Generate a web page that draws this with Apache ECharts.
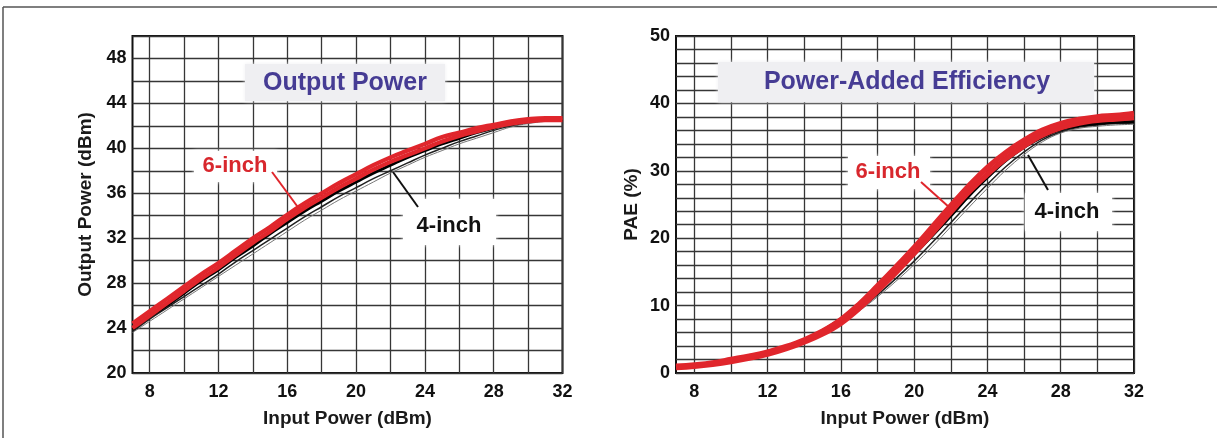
<!DOCTYPE html>
<html>
<head>
<meta charset="utf-8">
<script src="https://cdn.jsdelivr.net/npm/echarts@6/dist/echarts.min.js"></script>
<style>
  html, body { margin: 0; padding: 0; background: #ffffff; }
  #chart { width: 1217px; height: 438px; }
</style>
</head>
<body>
<div id="chart"></div>
<script>
// Input drive level shared by both panels (dBm)
const inputPower = [7, 8, 9, 10, 11, 12, 13, 14, 15, 16, 17, 18, 19, 20, 21, 22, 23, 24, 25, 26, 27, 28, 29, 30, 31, 32];

// Output power (dBm): 6-inch wafer bundle (upper / lower edge)
const pout6Upper = [24.4, 25.5, 26.6, 27.7, 28.8, 29.8, 30.9, 32.0, 33.0, 34.1, 35.1, 36.0, 36.9, 37.7, 38.5, 39.2, 39.8, 40.4, 41.0, 41.4, 41.8, 42.1, 42.4, 42.6, 42.7, 42.7];
const pout6Lower = [24.0, 25.1, 26.2, 27.3, 28.4, 29.4, 30.5, 31.6, 32.6, 33.7, 34.7, 35.6, 36.5, 37.3, 38.1, 38.8, 39.4, 40.0, 40.6, 41.1, 41.5, 41.9, 42.2, 42.4, 42.5, 42.5];
// Output power (dBm): 4-inch wafer bundle
const pout4Main  = [23.9, 25.0, 26.0, 27.1, 28.2, 29.2, 30.3, 31.3, 32.4, 33.4, 34.4, 35.3, 36.2, 37.0, 37.8, 38.5, 39.2, 39.8, 40.4, 40.9, 41.4, 41.8, 42.2, 42.4, 42.5, 42.5];
const pout4Low   = [23.7, 24.8, 25.8, 26.8, 27.8, 28.8, 29.9, 30.9, 31.9, 32.9, 33.9, 34.8, 35.7, 36.5, 37.3, 38.0, 38.7, 39.4, 40.0, 40.6, 41.1, 41.6, 42.0, 42.3, 42.5, 42.5];
const pout4Grey  = [23.6, 24.6, 25.6, 26.6, 27.6, 28.6, 29.6, 30.6, 31.6, 32.6, 33.6, 34.5, 35.4, 36.2, 37.0, 37.8, 38.5, 39.2, 39.8, 40.4, 40.9, 41.4, 41.9, 42.2, 42.4, 42.5];

// Power-added efficiency (%): 6-inch wafer bundle
const pae6Upper = [1.0, 1.2, 1.5, 2.0, 2.5, 3.1, 3.9, 4.9, 6.2, 7.9, 10.2, 12.9, 15.7, 18.6, 21.7, 24.8, 27.8, 30.5, 32.7, 34.5, 36.0, 37.0, 37.6, 38.0, 38.2, 38.5];
const pae6Lower = [0.8, 1.0, 1.3, 1.7, 2.2, 2.8, 3.6, 4.6, 5.8, 7.4, 9.6, 12.2, 14.9, 17.8, 20.8, 23.9, 26.9, 29.5, 31.8, 33.7, 35.3, 36.4, 37.1, 37.5, 37.7, 37.9];
// Power-added efficiency (%): 4-inch wafer bundle
const pae4Main  = [0.9, 1.1, 1.4, 1.9, 2.4, 3.0, 3.9, 4.9, 6.3, 8.0, 10.0, 12.4, 15.0, 17.6, 20.4, 23.3, 26.3, 29.0, 31.5, 33.5, 35.0, 36.1, 36.7, 37.0, 37.2, 37.3];
const pae4Low   = [0.9, 1.1, 1.4, 1.8, 2.3, 2.9, 3.7, 4.7, 6.0, 7.6, 9.4, 11.6, 14.0, 16.6, 19.4, 22.3, 25.2, 28.0, 30.6, 32.8, 34.6, 35.8, 36.5, 36.8, 37.0, 37.1];
const pae4Grey  = [0.9, 1.1, 1.4, 1.8, 2.3, 2.9, 3.7, 4.6, 5.9, 7.4, 9.2, 11.3, 13.6, 16.1, 18.8, 21.7, 24.6, 27.4, 30.1, 32.4, 34.3, 35.6, 36.3, 36.6, 36.8, 36.9];

// Grid lines and tick labels
const xGridTicks  = [8, 10, 12, 14, 16, 18, 20, 22, 24, 26, 28, 30, 32];
const xTickLabels = [8, 12, 16, 20, 24, 28, 32];
const poutTickLabels = [20, 24, 28, 32, 36, 40, 44, 48];
const paeTickLabels  = [0, 10, 20, 30, 40, 50];

const FONT = "'Liberation Sans', Arial, Helvetica, sans-serif";
const RED = '#e0262c';
const GRID_COLOR = '#363636';

const pairs = (ys) => inputPower.map((x, i) => [x, ys[i]]);

function lineSeries(name, ys, gridIdx, color, width, z) {
  return {
    name: name,
    type: 'line',
    xAxisIndex: gridIdx,
    yAxisIndex: gridIdx,
    data: pairs(ys),
    smooth: 0.4,
    showSymbol: false,
    symbol: 'none',
    z: z,
    lineStyle: { color: color, width: width },
    emphasis: { disabled: true },
    silent: true
  };
}

function xAxisFor(gridIdx) {
  return {
    type: 'value', gridIndex: gridIdx, min: 7, max: 32,
    name: 'Input Power (dBm)', nameLocation: 'middle', nameGap: 36,
    nameTextStyle: { fontFamily: FONT, fontWeight: 'bold', fontSize: 19, color: '#1a1a1a' },
    axisLine: { show: false },
    axisTick: { show: false, customValues: xGridTicks },
    axisLabel: { customValues: xTickLabels, margin: 10, fontFamily: FONT, fontWeight: 'bold', fontSize: 18, color: '#111' },
    splitLine: { show: true, lineStyle: { color: GRID_COLOR, width: 1.3 } }
  };
}

function yAxisFor(gridIdx, min, max, labels, name, gap) {
  return {
    type: 'value', gridIndex: gridIdx, min: min, max: max, interval: 2,
    name: name, nameLocation: 'middle', nameGap: gap, nameRotate: 90,
    nameTextStyle: { fontFamily: FONT, fontWeight: 'bold', fontSize: 19, color: '#1a1a1a' },
    axisLine: { show: false },
    axisTick: { show: false },
    axisLabel: { customValues: labels, margin: 6, fontFamily: FONT, fontWeight: 'bold', fontSize: 18, color: '#111' },
    splitLine: { show: true, lineStyle: { color: GRID_COLOR, width: 1.3 } }
  };
}

// Annotation helpers (boxes cover the grid, text sits on top)
function box(x1, y1, x2, y2, fill) {
  return { type: 'rect', z: 1, silent: true,
    shape: { x: x1, y: y1, width: x2 - x1, height: y2 - y1 },
    style: { fill: fill, shadowColor: fill, shadowBlur: 4 } };
}
function text(cx, cy, str, color, size) {
  return { type: 'text', z: 10, silent: true, x: cx, y: cy,
    style: { text: str, fill: color, font: 'bold ' + size + 'px ' + FONT, align: 'center', verticalAlign: 'middle' } };
}
function leader(x1, y1, x2, y2, color) {
  return { type: 'line', z: 9, silent: true,
    shape: { x1: x1, y1: y1, x2: x2, y2: y2 },
    style: { stroke: color, lineWidth: 2 } };
}

const option = {
  backgroundColor: '#ffffff',
  animation: false,
  grid: [
    { left: 132.5, top: 36, width: 430, height: 337, show: true, borderColor: '#111', borderWidth: 2, backgroundColor: 'transparent' },
    { left: 676, top: 36, width: 458, height: 337, show: true, borderColor: '#111', borderWidth: 2, backgroundColor: 'transparent' }
  ],
  xAxis: [xAxisFor(0), xAxisFor(1)],
  yAxis: [
    yAxisFor(0, 20, 50, poutTickLabels, 'Output Power (dBm)', 37),
    yAxisFor(1, 0, 50, paeTickLabels, 'PAE (%)', 35)
  ],
  series: [
    lineSeries('4-inch', pout4Grey, 0, '#777777', 1, 3),
    lineSeries('4-inch', pout4Low, 0, '#222222', 1.5, 3),
    lineSeries('4-inch', pout4Main, 0, '#000000', 3, 4),
    lineSeries('6-inch', pout6Lower, 0, RED, 4.2, 5),
    lineSeries('6-inch', pout6Upper, 0, RED, 4.2, 5),

    lineSeries('4-inch', pae4Grey, 1, '#777777', 1, 3),
    lineSeries('4-inch', pae4Low, 1, '#222222', 1.5, 3),
    lineSeries('4-inch', pae4Main, 1, '#000000', 3, 4),
    lineSeries('6-inch', pae6Lower, 1, RED, 5.5, 5),
    lineSeries('6-inch', pae6Upper, 1, RED, 5.5, 5)
  ],
  graphic: [
    // page frame
    { type: 'line', silent: true, shape: { x1: 3, y1: 7, x2: 1217, y2: 7 }, style: { stroke: '#555', lineWidth: 1.5 } },
    { type: 'line', silent: true, shape: { x1: 3, y1: 7, x2: 3, y2: 438 }, style: { stroke: '#555', lineWidth: 1.5 } },

    // Output Power panel
    box(245, 64, 445, 101, '#efeff2'),
    text(345, 83, 'Output Power', '#463c94', 25),
    box(194, 151, 277, 182, '#ffffff'),
    text(235, 166, '6-inch', '#d8272d', 22),
    leader(272, 172, 300, 210, RED),
    box(403, 199, 496, 245, '#ffffff'),
    text(449, 226, '4-inch', '#111111', 22),
    leader(418, 207, 393, 172, '#111111'),

    // Power-Added Efficiency panel
    box(718, 62, 1094, 102, '#efeff2'),
    text(907, 82, 'Power-Added Efficiency', '#463c94', 25),
    box(848, 156, 930, 189, '#ffffff'),
    text(888, 172, '6-inch', '#d8272d', 22),
    leader(921, 182, 950, 208, RED),
    box(1025, 193, 1112, 231, '#ffffff'),
    text(1067, 212, '4-inch', '#111111', 22),
    leader(1048, 190, 1028, 155, '#111111')
  ]
};

const chart = echarts.init(document.getElementById('chart'), null, { renderer: 'canvas' });
chart.setOption(option);
</script>
</body>
</html>
